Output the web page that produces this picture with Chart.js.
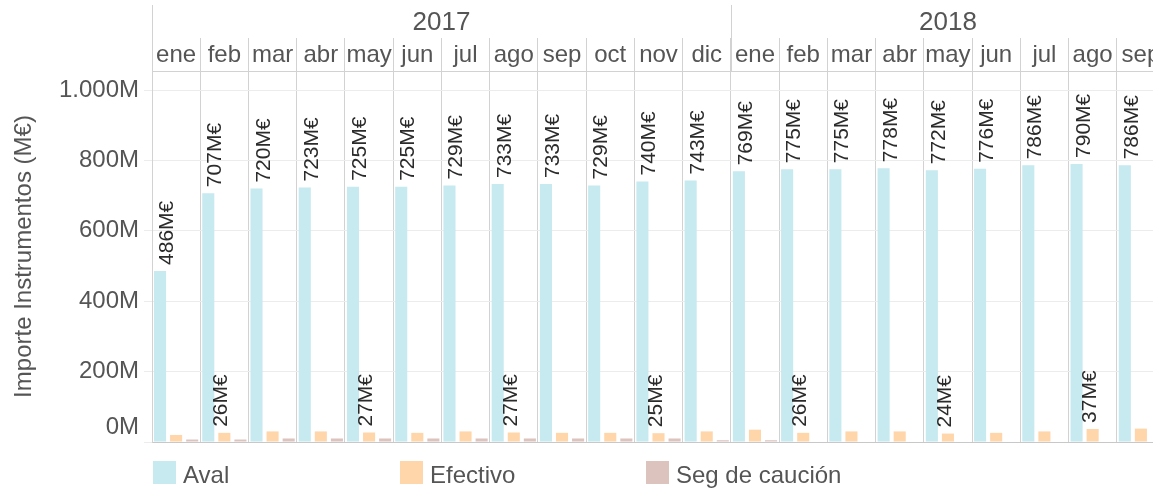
<!DOCTYPE html>
<html>
<head>
<meta charset="utf-8">
<script src="https://cdn.jsdelivr.net/npm/chart.js@4/dist/chart.umd.min.js"></script>
<style>
html,body{margin:0;padding:0;overflow:hidden;background:#fff;width:1153px;height:488px}
#wrap{position:absolute;left:0;top:0;width:1170px;height:488px}
</style>
</head>
<body>
<div id="wrap"><canvas id="c" width="1170" height="488"></canvas></div>
<script>
// ---- data ----
const months = ['ene','feb','mar','abr','may','jun','jul','ago','sep','oct','nov','dic',
                'ene','feb','mar','abr','may','jun','jul','ago','sep'];
const years = ['2017','2018'];
const yearFirstIdx = [0, 12];
const yearLastIdx = [11, 20];
const seriesNames = ['Aval','Efectivo','Seg de caución'];
const aval = [486,707,720,723,725,725,729,733,733,729,740,743,769,775,775,778,772,776,786,790,786];
const efectivo = [20,26,30,30,27,26,30,27,26,26,25,30,35,26,30,30,24,26,30,37,38];
const segCaucion = [7,7,10,10,10,10,10,10,10,10,10,5,5,null,null,null,null,null,null,null,null];
const efectivoLabelIdx = [1,4,7,10,13,16,19];
const yTicks = [0,200,400,600,800,1000];

const colors = ['#c7e9f0','#ffd5aa','#dcc3be'];
const FONT = '"Liberation Sans", Arial, sans-serif';
const TXT = '#555555';
const SEP = '#d2d2d2';

Chart.defaults.font.family = FONT;

function fmtM(v){
  if (v >= 1000) return Math.floor(v/1000) + '.' + String(v%1000).padStart(3,'0') + 'M';
  if (v === 0) return ['0M', ''];
  return v + 'M';
}

const headerPlugin = {
  id: 'header',
  afterDraw(chart){
    const ctx = chart.ctx;
    const xs = chart.scales.x;
    const half = (xs.getPixelForValue(1) - xs.getPixelForValue(0)) / 2;
    ctx.save();
    ctx.strokeStyle = SEP;
    ctx.lineWidth = 1;
    ctx.fillStyle = TXT;
    ctx.font = '26px ' + FONT;
    ctx.textAlign = 'center';
    ctx.textBaseline = 'alphabetic';
    years.forEach((y, k) => {
      const l = xs.getPixelForValue(yearFirstIdx[k]) - half;
      const r = xs.getPixelForValue(yearLastIdx[k]) + half;
      const lx = Math.round(l) + 0.5;
      ctx.beginPath(); ctx.moveTo(lx, 5); ctx.lineTo(lx, chart.chartArea.top); ctx.stroke();
      ctx.fillText(y, (l + r) / 2, 30);
    });
    const lx = [153, 400, 646];
    ctx.font = '24px ' + FONT;
    ctx.textAlign = 'left';
    seriesNames.forEach((n, i) => {
      ctx.fillStyle = colors[i];
      ctx.fillRect(lx[i], 461, 23, 23);
      ctx.fillStyle = TXT;
      ctx.fillText(n, lx[i] + 30, 483);
    });
    ctx.restore();
  }
};

function vlabel(ctx, text, x, y){
  ctx.save();
  ctx.translate(x, y);
  ctx.rotate(-Math.PI/2);
  ctx.fillText(text, 0, 0);
  ctx.restore();
}

const labelPlugin = {
  id: 'barLabels',
  afterDatasetsDraw(chart){
    const ctx = chart.ctx;
    ctx.save();
    ctx.fillStyle = '#2b2b2b';
    ctx.font = '21px ' + FONT;
    ctx.textAlign = 'left';
    ctx.textBaseline = 'alphabetic';
    chart.getDatasetMeta(0).data.forEach((bar, i) => {
      vlabel(ctx, aval[i] + 'M€', bar.x + 13, bar.y - 6);
    });
    const m1 = chart.getDatasetMeta(1).data;
    efectivoLabelIdx.forEach(i => {
      const bar = m1[i];
      vlabel(ctx, efectivo[i] + 'M€', bar.x + 3, bar.y - 6);
    });
    ctx.restore();
  }
};

new Chart(document.getElementById('c'), {
  type: 'bar',
  data: {
    labels: months,
    datasets: [
      { label: seriesNames[0], data: aval, backgroundColor: colors[0] },
      { label: seriesNames[1], data: efectivo, backgroundColor: colors[1] },
      { label: seriesNames[2], data: segCaucion, backgroundColor: colors[2] }
    ]
  },
  options: {
    responsive: false,
    animation: false,
    datasets: { bar: { categoryPercentage: 1.0, barPercentage: 0.75 } },
    layout: { padding: { left: 0, right: 5, top: 0, bottom: 46 } },
    plugins: { legend: { display: false }, tooltip: { enabled: false } },
    scales: {
      x: {
        position: 'bottom',
        offset: true,
        grid: { display: false },
        ticks: { display: false },
        border: { display: true, color: '#c8c8c8' },
        afterFit(s){ s.height = 0; }
      },
      xm: {
        type: 'category',
        position: 'top',
        offset: true,
        grid: { offset: true, color: SEP, drawOnChartArea: true, drawTicks: true, tickLength: 33, tickColor: SEP },
        border: { display: true, color: SEP },
        ticks: { padding: -32, font: { size: 24 }, color: TXT, maxRotation: 0, autoSkip: false },
        afterFit(s){ s.height = 71; }
      },
      y: {
        min: 0,
        max: 1054,
        afterBuildTicks(s){ s.ticks = yTicks.map(v => ({ value: v })); },
        grid: { color: '#ececec', tickLength: 8, tickColor: '#ececec' },
        border: { display: true, color: SEP },
        ticks: { padding: 5, font: { size: 24 }, color: TXT, callback: v => fmtM(v) },
        title: { display: true, text: 'Importe Instrumentos (M€)', font: { size: 24 }, color: TXT, padding: { top: 10, bottom: 0 } },
        afterFit(s){ s.width = 152; }
      }
    }
  },
  plugins: [labelPlugin, headerPlugin]
});
</script>
</body>
</html>
